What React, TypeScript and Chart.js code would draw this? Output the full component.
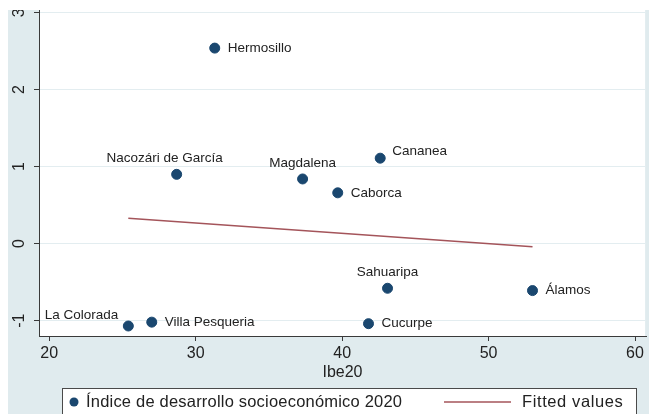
import React, { useEffect, useRef } from "react";
import { Chart, registerables } from "chart.js";

Chart.register(...registerables);

// ---- data ----
const municipios = [
  "Hermosillo",
  "Nacozári de García",
  "Magdalena",
  "Caborca",
  "Cananea",
  "Sahuaripa",
  "Álamos",
  "La Colorada",
  "Villa Pesqueria",
  "Cucurpe",
];
const ibe20 = [31.3, 28.7, 37.3, 39.7, 42.6, 43.1, 53.0, 25.4, 27.0, 41.8];
const idse2020 = [2.54, 0.9, 0.84, 0.66, 1.11, -0.58, -0.61, -1.07, -1.02, -1.04];
// marker label clock positions (Stata-style mlabvposition)
const labelClock = [3, 11, 12, 3, 2, 12, 3, 10, 3, 3];
const fitX = [25.4, 53.0];
const fitY = [0.33, -0.04];
const xTicks = [20, 30, 40, 50, 60];
const yTicks = [-1, 0, 1, 2, 3];
const seriesLabel = "Índice de desarrollo socioeconómico 2020";
const fitLabel = "Fitted values";
const xTitle = "Ibe20";

// ---- styles ----
const BG = "#e0ebee";
const NAVY = "#1a476f";
const MAROON = "#a4545a";
const GRID = "#e3edf0";
const AXIS = "#3a3a3a";
const TEXT = "#222222";
const FONT = "'Liberation Sans', Arial, sans-serif";

const stataPlugin = {
  id: "stataDecor",
  beforeDraw(chart: any) {
    const { ctx, chartArea: a, width, height } = chart;
    ctx.save();
    ctx.fillStyle = BG;
    ctx.fillRect(0, 0, width, height);
    ctx.fillStyle = "#ffffff";
    ctx.fillRect(a.left, a.top, a.right - a.left, a.bottom - a.top);
    ctx.strokeStyle = GRID;
    ctx.lineWidth = 1;
    ctx.beginPath();
    ctx.moveTo(a.right - 0.5, a.top);
    ctx.lineTo(a.right - 0.5, a.bottom);
    ctx.stroke();
    ctx.restore();
  },
  afterDatasetsDraw(chart: any) {
    const { ctx } = chart;
    const meta = chart.getDatasetMeta(1);
    ctx.save();
    ctx.font = `13.5px ${FONT}`;
    ctx.fillStyle = TEXT;
    ctx.textBaseline = "middle";
    meta.data.forEach((pt: any, i: number) => {
      const clock = labelClock[i];
      let dx = 0;
      let dy = 0;
      let align: CanvasTextAlign = "left";
      if (clock === 3) {
        dx = 13;
        dy = 0;
        align = "left";
      } else if (clock === 12) {
        dx = 0;
        dy = -16;
        align = "center";
      } else if (clock === 11) {
        dx = -12;
        dy = -16;
        align = "center";
      } else if (clock === 2) {
        dx = 12;
        dy = -7;
        align = "left";
      } else if (clock === 10) {
        dx = -10;
        dy = -11;
        align = "right";
      }
      ctx.textAlign = align;
      ctx.fillText(municipios[i], pt.x + dx, pt.y + dy);
    });
    ctx.restore();
  },
  afterDraw(chart: any) {
    const { ctx, scales } = chart;
    const ys = scales.y;
    ctx.save();
    // rotated y tick labels
    ctx.font = `16px ${FONT}`;
    ctx.fillStyle = TEXT;
    ctx.textAlign = "center";
    ctx.textBaseline = "middle";
    yTicks.forEach((v) => {
      const py = ys.getPixelForValue(v);
      ctx.save();
      ctx.translate(12, py);
      ctx.rotate(-Math.PI / 2);
      ctx.fillText(String(v), 0, 0);
      ctx.restore();
    });
    // legend
    const lx = 54;
    const ly = 378;
    const lw = 574;
    ctx.fillStyle = "#ffffff";
    ctx.fillRect(lx, ly, lw, 40);
    ctx.strokeStyle = "#4a4a4a";
    ctx.lineWidth = 1;
    ctx.strokeRect(lx + 0.5, ly + 0.5, lw, 40);
    const cy = 392;
    ctx.fillStyle = NAVY;
    ctx.beginPath();
    ctx.arc(66, cy, 4.5, 0, Math.PI * 2);
    ctx.fill();
    ctx.fillStyle = TEXT;
    ctx.font = `16.5px ${FONT}`;
    ctx.textAlign = "left";
    (ctx as any).letterSpacing = "0.2px";
    ctx.fillText(seriesLabel, 78, cy);
    ctx.strokeStyle = MAROON;
    ctx.lineWidth = 1.6;
    ctx.beginPath();
    ctx.moveTo(436, cy);
    ctx.lineTo(503, cy);
    ctx.stroke();
    (ctx as any).letterSpacing = "0.6px";
    ctx.fillText(fitLabel, 514, cy);
    ctx.restore();
  },
};

export default function App() {
  const ref = useRef<HTMLCanvasElement | null>(null);

  useEffect(() => {
    if (!ref.current) return;
    const chart = new Chart(ref.current, {
      type: "scatter",
      data: {
        datasets: [
          {
            type: "line",
            label: fitLabel,
            data: fitX.map((x, i) => ({ x, y: fitY[i] })),
            borderColor: MAROON,
            borderWidth: 1.6,
            pointRadius: 0,
            fill: false,
          } as any,
          {
            label: seriesLabel,
            data: ibe20.map((x, i) => ({ x, y: idse2020[i] })),
            backgroundColor: NAVY,
            borderColor: NAVY,
            pointRadius: 5,
            pointHoverRadius: 5,
          },
        ],
      },
      plugins: [stataPlugin],
      options: {
        responsive: false,
        animation: false,
        events: [],
        layout: { autoPadding: false, padding: { left: 0, right: 3, top: 0, bottom: 32 } },
        plugins: {
          legend: { display: false },
          tooltip: { enabled: false },
        },
        scales: {
          x: {
            type: "linear",
            min: 19.3,
            max: 60.75,
            afterBuildTicks: (s: any) => {
              s.ticks = xTicks.map((v) => ({ value: v }));
            },
            afterFit: (s: any) => {
              s.height = 46;
            },
            grid: {
              drawOnChartArea: false,
              drawTicks: true,
              tickLength: 5,
              tickColor: AXIS,
            },
            border: { display: true, color: AXIS, width: 1 },
            ticks: {
              color: TEXT,
              font: { size: 16, family: FONT },
              padding: 3,
              maxRotation: 0,
              autoSkip: false,
            },
            title: {
              display: true,
              text: xTitle,
              color: TEXT,
              font: { size: 16, family: FONT },
              padding: { top: 0, bottom: 0 },
            },
          },
          y: {
            type: "linear",
            min: -1.2,
            max: 3.035,
            afterBuildTicks: (s: any) => {
              s.ticks = yTicks.map((v) => ({ value: v }));
            },
            afterFit: (s: any) => {
              s.width = 31;
            },
            grid: {
              drawOnChartArea: true,
              color: GRID,
              lineWidth: 1,
              drawTicks: true,
              tickLength: 5,
              tickColor: AXIS,
            },
            border: { display: true, color: AXIS, width: 1 },
            ticks: { display: false },
          },
        },
      },
    });
    return () => chart.destroy();
  }, []);

  return (
    <div style={{ position: "fixed", left: 8, top: 10, width: 641, height: 404 }}>
      <canvas ref={ref} width={641} height={404} style={{ display: "block" }} />
    </div>
  );
}
